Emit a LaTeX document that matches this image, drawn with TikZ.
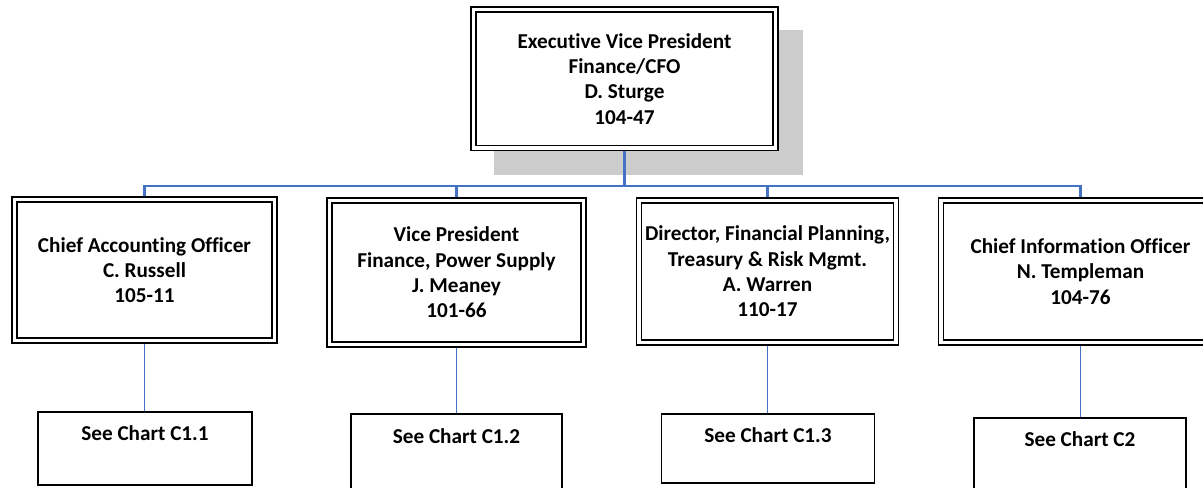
\documentclass[tikz,border=0pt]{standalone}
\usepackage{fontspec}
\setmainfont{Carlito}[Ligatures=NoCommon]
\definecolor{conncol}{HTML}{4472C4}
\definecolor{shadowcol}{HTML}{CCCCCC}
\begin{document}
\begin{tikzpicture}[x=0.75pt,y=-0.75pt,
  txt/.style={font=\bfseries\fontsize{15.9}{19}\selectfont, align=center},
  dblbox/.style={txt, draw=black, fill=white, double=white, line width=1.9*0.75pt,
    double distance=3.1*0.75pt, inner sep=0pt, outer sep=3.45*0.75pt},
  seebox/.style={draw=black, fill=white, line width=1.9*0.75pt, inner sep=0pt},
  conn/.style={draw=conncol, line width=2.1*0.75pt},
  connlow/.style={draw=conncol, line width=1.4*0.75pt}]
\useasboundingbox (0,0) rectangle (1203,488);
\clip (0,0) rectangle (1203,488);
\fill[white] (0,0) rectangle (1203,488);
% shadow
\fill[shadowcol] (494,30) rectangle (803,175);
% top box
\node[dblbox, minimum width=302*0.75pt, minimum height=138.5*0.75pt] (top) at (624.5,78.75)
  {Executive Vice President\\Finance/CFO\\D. Sturge\\104-47};
% level 2
\node[dblbox, minimum width=260*0.75pt, minimum height=141*0.75pt] (b1) at (144.5,270)
  {Chief Accounting Officer\\C. Russell\\105-11};
\node[dblbox, minimum width=254*0.75pt, minimum height=144*0.75pt] (b2) at (456.5,272.5)
  {Vice President\\Finance, Power Supply\\J. Meaney\\101-66};
\node[dblbox, minimum width=257*0.75pt, minimum height=142*0.75pt] (b3) at (767.5,271.5)
  {Director, Financial Planning,\\Treasury \& Risk Mgmt.\\A. Warren\\110-17};
\node[dblbox, minimum width=279*0.75pt, minimum height=142*0.75pt] (b4) at (1080.5,271.5)
  {Chief Information Officer\\N. Templeman\\104-76};
% bottom boxes
\node[seebox, minimum width=214*0.75pt, minimum height=73*0.75pt,
  label={[txt, anchor=base, yshift=-29*0.75pt]north:See Chart C1.1}] (c1) at (145,448.5) {};
\node[seebox, minimum width=211*0.75pt, minimum height=76*0.75pt,
  label={[txt, anchor=base, yshift=-30*0.75pt]north:See Chart C1.2}] (c2) at (456.5,452) {};
\node[seebox, minimum width=213*0.75pt, minimum height=69*0.75pt,
  label={[txt, anchor=base, yshift=-29*0.75pt]north:See Chart C1.3}] (c3) at (768,448.5) {};
\node[seebox, minimum width=212*0.75pt, minimum height=74*0.75pt,
  label={[txt, anchor=base, yshift=-29*0.75pt]north:See Chart C2}] (c4) at (1080,455) {};
% connectors
\coordinate (bus) at (624.5,186);
\draw[conn] (top.south) -- (bus);
\draw[conn] (b1.north) |- (bus) -| (b4.north);
\draw[conn] (b2.north) -- (b2.north |- bus);
\draw[conn] (b3.north) -- (b3.north |- bus);
\draw[connlow] (b1.south) -- (b1.south |- c1.north);
\draw[connlow] (b2.south) -- (b2.south |- c2.north);
\draw[connlow] (b3.south) -- (b3.south |- c3.north);
\draw[connlow] (b4.south) -- (b4.south |- c4.north);
\end{tikzpicture}
\end{document}
